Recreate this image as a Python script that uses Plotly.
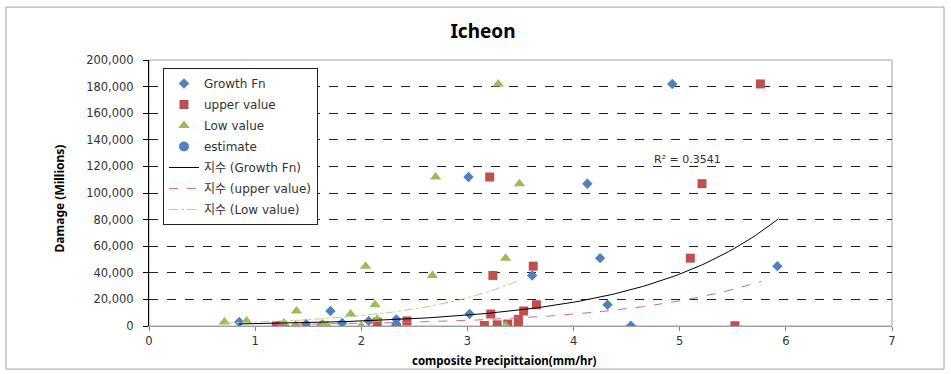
import numpy as np
import plotly.graph_objects as go

# ---- data ----
damage = [182000, 112000, 107000, 51000, 45000, 38000, 200, 16000, 11300, 9000,
          5000, 3800, 3000, 2300, 1500, 900, 400, 150, 50]
growth_x = [4.93, 3.01, 4.13, 4.25, 5.92, 3.61, 4.54, 4.32, 1.71, 3.02,
            2.33, 2.07, 0.85, 1.82, 1.48, 1.63, 1.27, 1.26, 1.21]
upper_x = [5.76, 3.21, 5.21, 5.10, 3.62, 3.24, 5.52, 3.65, 3.53, 3.22,
           3.48, 2.43, 2.15, 3.48, 3.38, 3.28, 3.16, 1.26, 1.20]
low_x = [3.29, 2.70, 3.49, 3.36, 2.04, 2.67, 3.36, 2.13, 1.39, 1.90,
         2.15, 0.92, 0.71, 1.27, 1.64, 1.38, 1.68, 2.00, 1.38]
estimate_x = [2.33]
estimate_y = [300]

# exponential trendlines y = a*exp(b*x): (a, b, x_start, x_end)
trend_growth = (790, 0.78, 0.85, 5.93)
trend_upper = (443, 0.75, 1.20, 5.77)
trend_low = (1050, 1.00, 0.71, 3.50)
r2_text = "R² = 0.3541"
r2_pos = (5.07, 125000)

x_ticks = [0, 1, 2, 3, 4, 5, 6, 7]
y_ticks = [0, 20000, 40000, 60000, 80000, 100000, 120000, 140000, 160000, 180000, 200000]

FONT = "DejaVu Sans, Noto Sans CJK KR"
BLUE = "#4F81BD"
RED = "#C0504D"
GREEN = "#9BBB59"


def trend(p):
    a, b, x0, x1 = p
    xs = np.linspace(x0, x1, 120)
    return xs, a * np.exp(b * xs)


fig = go.Figure()
fig.add_trace(go.Scatter(x=growth_x, y=damage, mode="markers", name="Growth Fn",
                         marker=dict(symbol="diamond", size=8, color=BLUE), legendgroup="1"))
fig.add_trace(go.Scatter(x=upper_x, y=damage, mode="markers", name="upper value",
                         marker=dict(symbol="square", size=9, color=RED), legendgroup="2"))
fig.add_trace(go.Scatter(x=low_x, y=damage, mode="markers", name="Low value",
                         marker=dict(symbol="triangle-up", size=10, color=GREEN), legendgroup="3"))
fig.add_trace(go.Scatter(x=estimate_x, y=estimate_y, mode="markers", name="estimate",
                         marker=dict(symbol="circle", size=10, color=BLUE), legendgroup="4"))

xs, ys = trend(trend_growth)
fig.add_trace(go.Scatter(x=xs, y=ys, mode="lines", name="지수 (Growth Fn)",
                         line=dict(color="black", width=1), legendgroup="5"))
xs, ys = trend(trend_upper)
fig.add_trace(go.Scatter(x=xs, y=ys, mode="lines", name="지수 (upper value)",
                         line=dict(color="#D86A78", width=1, dash="dash"), legendgroup="6"))
xs, ys = trend(trend_low)
fig.add_trace(go.Scatter(x=xs, y=ys, mode="lines", name="지수 (Low value)",
                         line=dict(color="#B9CF85", width=1, dash="dashdot"), legendgroup="7"))

fig.update_layout(
    width=951, height=374,
    margin=dict(l=149, r=59, t=60, b=48),
    paper_bgcolor="white", plot_bgcolor="white",
    font=dict(family=FONT, size=11, color="#333333"),
    title=dict(text="<b>Icheon</b>", x=483 / 951, xref="container", xanchor="center",
               y=1 - 31 / 374, yref="container", yanchor="middle",
               font=dict(family="Noto Sans", size=19, color="black")),
    showlegend=True,
    legend=dict(x=0.0188, y=0.97, xanchor="left", yanchor="top",
                bgcolor="white", bordercolor="#222222", borderwidth=1,
                font=dict(family=FONT, size=12, color="#333333"),
                tracegroupgap=2),
)

fig.update_xaxes(range=[0, 7], tickvals=x_ticks, showgrid=False, zeroline=False,
                 showline=True, linecolor="#A0A0A0", linewidth=1,
                 ticks="outside", ticklen=4, tickcolor="#808080",
                 tickfont=dict(family=FONT, size=11.5, color="#333333"))
fig.update_yaxes(range=[0, 200000], tickvals=y_ticks, tickformat=",",
                 showgrid=True, gridcolor="#222222", griddash="dash", gridwidth=1,
                 zeroline=False, showline=True, linecolor="black", linewidth=1,
                 ticks="outside", ticklen=5, tickcolor="black", ticklabelstandoff=7,
                 tickfont=dict(family=FONT, size=11.5, color="#333333"))

# plot-area frame (gray) and outer chart border
fig.add_shape(type="rect", xref="paper", yref="paper", x0=0, x1=1, y0=0, y1=1,
              line=dict(color="#A0A0A0", width=1), layer="below")
fig.add_shape(type="rect", xref="paper", yref="paper", x0=-0.1925, x1=1.070,
              y0=-0.162, y1=1.199, line=dict(color="#A0A0A0", width=1))

fig.add_annotation(x=-0.121, y=0.48, xref="paper", yref="paper", showarrow=False,
                   xanchor="center", yanchor="middle",
                   text="<b>Damage (Millions)</b>", textangle=-90,
                   font=dict(family="Noto Sans", size=12, color="black"))
fig.add_annotation(x=0.479, y=-0.128, xref="paper", yref="paper", showarrow=False,
                   xanchor="center", yanchor="middle",
                   text="<b>composite Precipittaion(mm/hr)</b>",
                   font=dict(family="Noto Sans", size=11.5, color="black"))
fig.add_annotation(x=r2_pos[0], y=r2_pos[1], xref="x", yref="y", showarrow=False,
                   text=r2_text, font=dict(family=FONT, size=11, color="#333333"))

fig.write_html("out.html", config={"displayModeBar": False},
               post_script="document.body.style.margin='0';")
